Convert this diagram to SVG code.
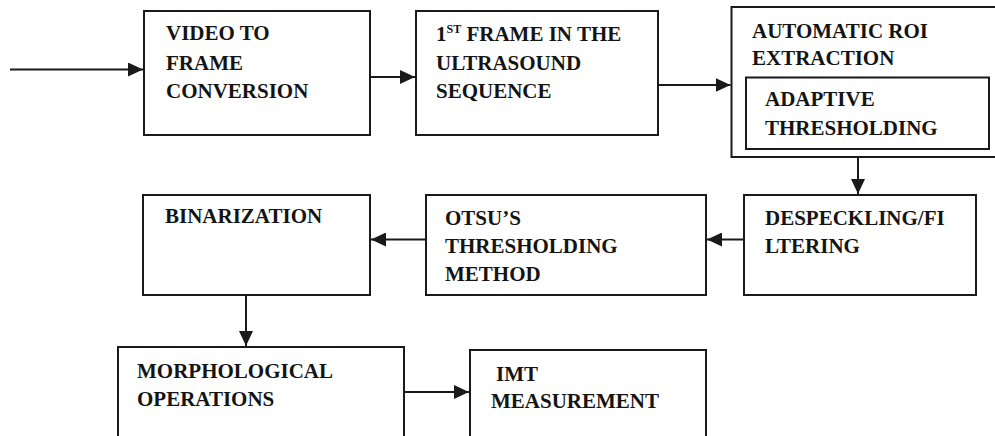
<svg xmlns="http://www.w3.org/2000/svg" width="995" height="436" viewBox="0 0 995 436">
<style>
.box{fill:#fff;stroke:#1a1a1a;stroke-width:2}
.lbl{font-weight:bold;font-size:21px;fill:#141414}
.sup{font-size:12px}
.con{fill:none;stroke:#1a1a1a;stroke-width:2}
</style>
<defs>
<marker id="ah" viewBox="0 0 15 14" refX="15" refY="7" markerWidth="15" markerHeight="14" markerUnits="userSpaceOnUse" orient="auto">
<path d="M0,0 L15,7 L0,14 z" fill="#1a1a1a"/>
</marker>
</defs>
<rect width="995" height="436" fill="#fff"/>
<g id="connectors">
<path class="con" d="M10,69.5 H143" marker-end="url(#ah)"/>
<path class="con" d="M370,77 H415" marker-end="url(#ah)"/>
<path class="con" d="M658,85 H730.5" marker-end="url(#ah)"/>
<path class="con" d="M858,157 V194" marker-end="url(#ah)"/>
<path class="con" d="M744,239.5 H707" marker-end="url(#ah)"/>
<path class="con" d="M426,239.5 H371" marker-end="url(#ah)"/>
<path class="con" d="M246,295 V346" marker-end="url(#ah)"/>
<path class="con" d="M404,392 H469" marker-end="url(#ah)"/>
</g>
<g font-family="'Liberation Serif', 'DejaVu Serif', serif">
<g id="video-to-frame">
<rect class="box" x="144" y="11" width="226" height="124"/>
<text class="lbl" x="166" y="40">VIDEO TO</text>
<text class="lbl" x="166" y="70">FRAME</text>
<text class="lbl" x="166" y="98">CONVERSION</text>
</g>
<g id="first-frame">
<rect class="box" x="416" y="11" width="242" height="124"/>
<text class="lbl" x="436" y="41">1<tspan class="sup" dy="-8">ST</tspan><tspan dy="8"> FRAME IN THE</tspan></text>
<text class="lbl" x="436" y="70">ULTRASOUND</text>
<text class="lbl" x="436" y="98">SEQUENCE</text>
</g>
<g id="roi-extraction">
<rect class="box" x="731.5" y="7" width="280" height="150"/>
<text class="lbl" x="752" y="38">AUTOMATIC ROI</text>
<text class="lbl" x="752" y="65">EXTRACTION</text>
<g id="adaptive-thresholding">
<rect class="box" x="746" y="77.5" width="243" height="71.5"/>
<text class="lbl" x="765" y="106">ADAPTIVE</text>
<text class="lbl" x="765" y="135">THRESHOLDING</text>
</g>
</g>
<g id="despeckling">
<rect class="box" x="744" y="195" width="232" height="100"/>
<text class="lbl" x="765" y="225">DESPECKLING/FI</text>
<text class="lbl" x="765" y="253">LTERING</text>
</g>
<g id="otsu">
<rect class="box" x="426" y="195" width="280" height="100"/>
<text class="lbl" x="445" y="225">OTSU’S</text>
<text class="lbl" x="445" y="253">THRESHOLDING</text>
<text class="lbl" x="445" y="281">METHOD</text>
</g>
<g id="binarization">
<rect class="box" x="143" y="195" width="227" height="100"/>
<text class="lbl" x="165" y="223">BINARIZATION</text>
</g>
<g id="morphological">
<rect class="box" x="118" y="347" width="286" height="100"/>
<text class="lbl" x="137" y="378">MORPHOLOGICAL</text>
<text class="lbl" x="137" y="406">OPERATIONS</text>
</g>
<g id="imt">
<rect class="box" x="470" y="350" width="236" height="100"/>
<text class="lbl" x="496" y="381">IMT</text>
<text class="lbl" x="491" y="408">MEASUREMENT</text>
</g>
</g>
</svg>
